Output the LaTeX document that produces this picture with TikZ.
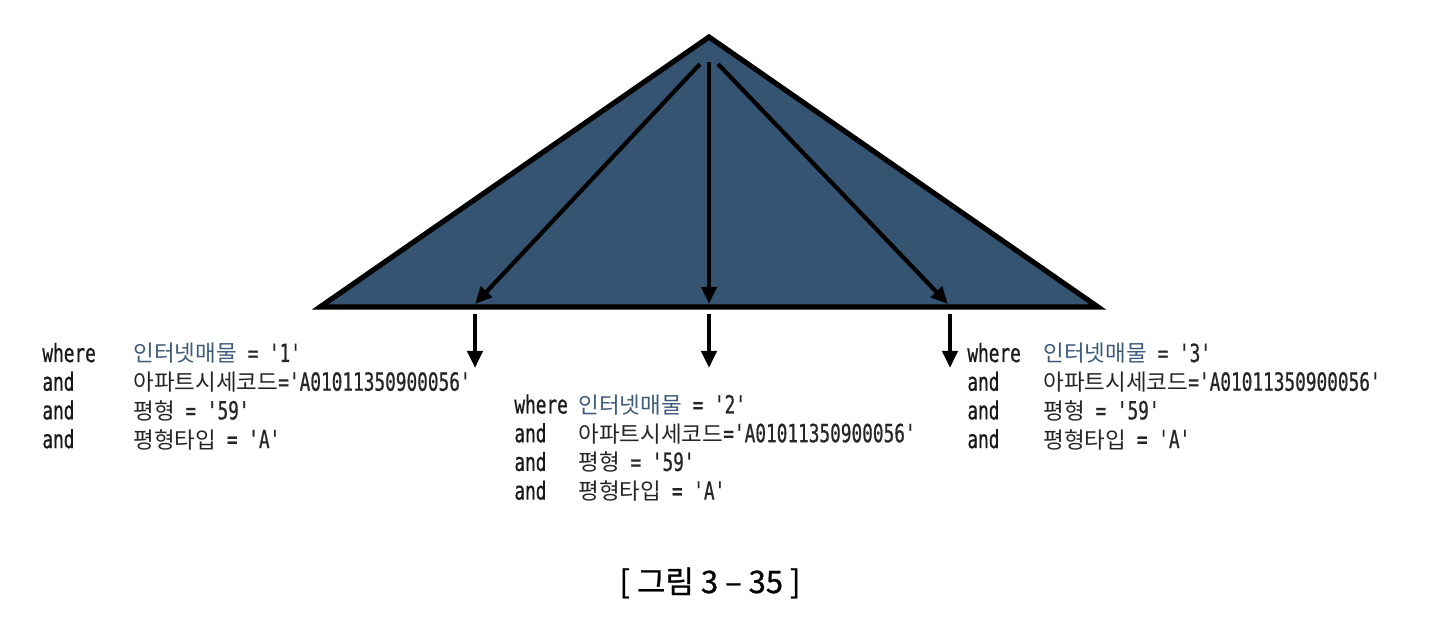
\documentclass[tikz,border=0pt]{standalone}
\usepackage{fontspec}
\usepackage{tikz}
\usetikzlibrary{arrows.meta, positioning, calc}
\newfontfamily\codefont[FakeStretch=0.71, FakeBold=0.7]{DejaVu Sans Mono}
\newfontfamily\krfont[Scale=0.9]{Noto Sans CJK KR}
\newfontfamily\capfont[FakeBold=0.8]{Noto Sans CJK KR}
\definecolor{roofblue}{RGB}{52,84,114}
\definecolor{netblue}{RGB}{62,92,122}
\newcommand{\kr}[1]{{\krfont #1}}
% one where-clause block: name, keyword x, condition x, first baseline y, number
\newcommand{\condblock}[5]{%
  \node[kw]   (#1w)  at (#2,#4)        {where};
  \node[kw]   (#1a1) at (#2,#4+28.7)   {and};
  \node[kw]   (#1a2) at (#2,#4+57.4)   {and};
  \node[kw]   (#1a3) at (#2,#4+86.1)   {and};
  \node[cond] (#1c1) at (#3,#4)        {\kr{\textcolor{netblue}{인터넷매물}} = '#5'};
  \node[cond] (#1c2) at (#3,#4+28.7)   {\kr{아파트시세코드}='A01011350900056'};
  \node[cond] (#1c3) at (#3,#4+57.4)   {\kr{평형} = '59'};
  \node[cond] (#1c4) at (#3,#4+86.1)   {\kr{평형타입} = 'A'};
}

\begin{document}
\begin{tikzpicture}[
    x=0.5pt, y=-0.5pt,
    kw/.style={anchor=base west, inner sep=0pt, text=black!90,
               font=\fontsize{12.5}{15}\codefont},
    cond/.style={anchor=base west, inner sep=0pt, text=black!85,
                 font=\fontsize{12.5}{15}\codefont},
    arr/.style={line width=2.1pt, -{Triangle[length=8.5pt, width=7.5pt]}},
]
\useasboundingbox (0,0) rectangle (1440,641);
% ============== the index tree as a triangle ==================
\coordinate (apex) at (709,37);
\coordinate (bl)   at (320,307);
\coordinate (br)   at (1098,307);
\draw[line width=2.6pt, fill=roofblue] (apex) -- (bl) -- (br) -- cycle;
% scans from the root down to the leaves
\coordinate (s1) at (700,64);
\coordinate (s2) at (709,62);
\coordinate (s3) at (718,64);
\coordinate (e1) at (475,304);
\coordinate (e2) at (709,304);
\coordinate (e3) at (948,304);
\draw[arr] (s1) -- (e1);
\draw[arr] (s2) -- (e2);
\draw[arr] (s3) -- (e3);
% ============== the three conditions ==================
\coordinate (t1) at (475,314);
\coordinate (t2) at (709,314);
\coordinate (t3) at (950,314);
\coordinate (b1) at (475,368);
\coordinate (b2) at (709,368);
\coordinate (b3) at (950,368);
\draw[arr] (t1) -- (b1);
\draw[arr] (t2) -- (b2);
\draw[arr] (t3) -- (b3);
\condblock{L}{42}{133}{362}{1}
\condblock{M}{514}{578}{413.5}{2}
\condblock{R}{967}{1043}{362}{3}
% caption
\node[anchor=base, inner sep=0pt, font=\fontsize{15.5}{18}\capfont] (cap)
  at (710,593) {[ 그림 3 – 35 ]};
\end{tikzpicture}
\end{document}
